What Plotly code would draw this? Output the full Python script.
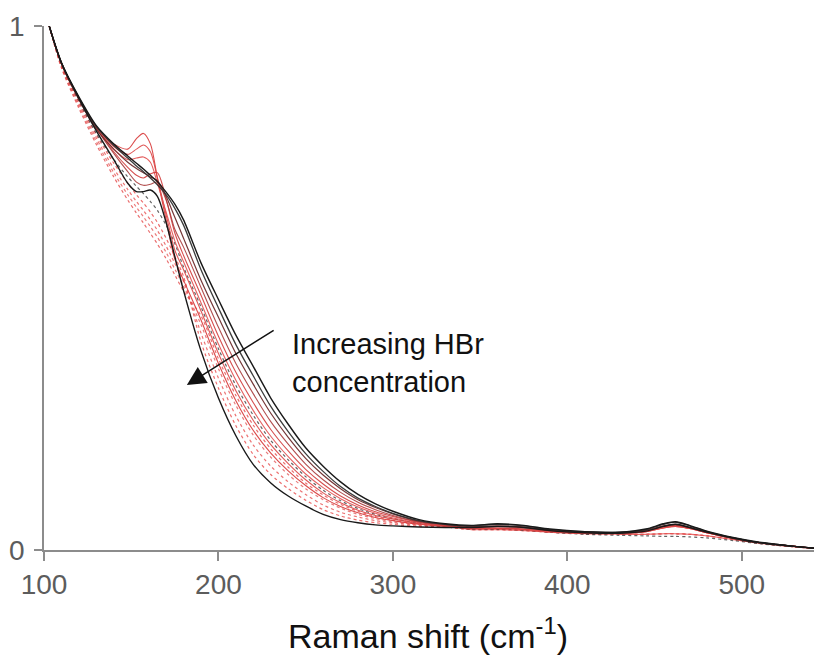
import plotly.graph_objects as go

# Raman shift grid (cm-1)
shift = [103, 110, 120, 130, 140, 148, 153, 157, 161, 165, 170, 175, 180,
         190, 200, 210, 220, 230, 240, 250, 260, 270, 280, 290, 300, 315, 330,
         345, 360, 375, 390, 410, 430, 445, 455, 462, 470, 480, 495, 510, 530, 546]

# normalised intensities
black_low = [1.000, 0.930, 0.865, 0.810, 0.775, 0.752, 0.738, 0.727, 0.715, 0.703, 0.683, 0.660, 0.630,
             0.548, 0.478, 0.410, 0.350, 0.290, 0.240, 0.195, 0.160, 0.130, 0.106, 0.088, 0.074, 0.058, 0.050,
             0.047, 0.050, 0.047, 0.040, 0.035, 0.034, 0.040, 0.050, 0.054, 0.047, 0.036, 0.024, 0.015, 0.007, 0.002]
black_low2 = [1.000, 0.930, 0.863, 0.808, 0.772, 0.748, 0.733, 0.722, 0.710, 0.697, 0.678, 0.652, 0.620,
              0.535, 0.462, 0.392, 0.332, 0.274, 0.226, 0.184, 0.150, 0.121, 0.099, 0.083, 0.070, 0.056, 0.049,
              0.046, 0.049, 0.046, 0.039, 0.035, 0.034, 0.039, 0.049, 0.053, 0.046, 0.035, 0.023, 0.014, 0.007, 0.002]
dark_red = [1.000, 0.928, 0.860, 0.803, 0.765, 0.740, 0.728, 0.720, 0.712, 0.705, 0.675, 0.635, 0.595,
            0.515, 0.444, 0.375, 0.316, 0.261, 0.215, 0.175, 0.143, 0.117, 0.096, 0.081, 0.069, 0.055, 0.049,
            0.045, 0.046, 0.044, 0.038, 0.034, 0.033, 0.038, 0.046, 0.049, 0.043, 0.034, 0.022, 0.014, 0.007, 0.002]
black_high = [1.000, 0.930, 0.862, 0.800, 0.745, 0.700, 0.684, 0.684, 0.687, 0.675, 0.625, 0.560, 0.495,
              0.380, 0.290, 0.218, 0.163, 0.128, 0.103, 0.084, 0.068, 0.058, 0.052, 0.048, 0.046, 0.044, 0.043,
              0.043, 0.045, 0.043, 0.037, 0.033, 0.032, 0.036, 0.045, 0.049, 0.043, 0.034, 0.023, 0.014, 0.007, 0.002]
red_1 = [1.000, 0.928, 0.860, 0.805, 0.775, 0.765, 0.785, 0.795, 0.775, 0.710, 0.630, 0.555, 0.515,
         0.439, 0.356, 0.285, 0.228, 0.185, 0.151, 0.123, 0.100, 0.083, 0.071, 0.062, 0.056, 0.049, 0.045,
         0.041, 0.041, 0.039, 0.035, 0.032, 0.032, 0.035, 0.042, 0.045, 0.041, 0.033, 0.022, 0.014, 0.007, 0.002]
red_2 = [1.000, 0.929, 0.862, 0.806, 0.770, 0.755, 0.765, 0.773, 0.760, 0.710, 0.640, 0.572, 0.535,
         0.456, 0.375, 0.304, 0.247, 0.201, 0.165, 0.134, 0.109, 0.090, 0.076, 0.066, 0.059, 0.050, 0.046,
         0.041, 0.041, 0.039, 0.035, 0.032, 0.032, 0.035, 0.042, 0.045, 0.041, 0.033, 0.022, 0.014, 0.007, 0.002]
red_3 = [1.000, 0.929, 0.862, 0.806, 0.765, 0.745, 0.748, 0.750, 0.740, 0.700, 0.645, 0.590, 0.550,
         0.472, 0.393, 0.324, 0.266, 0.217, 0.178, 0.145, 0.119, 0.098, 0.082, 0.070, 0.061, 0.052, 0.047,
         0.041, 0.041, 0.039, 0.035, 0.032, 0.032, 0.035, 0.043, 0.046, 0.041, 0.033, 0.022, 0.014, 0.007, 0.002]
red_4 = [1.000, 0.929, 0.862, 0.805, 0.760, 0.730, 0.715, 0.710, 0.718, 0.720, 0.670, 0.605, 0.562,
         0.486, 0.408, 0.339, 0.281, 0.230, 0.189, 0.154, 0.126, 0.103, 0.086, 0.073, 0.064, 0.053, 0.047,
         0.042, 0.042, 0.040, 0.036, 0.032, 0.032, 0.036, 0.044, 0.047, 0.042, 0.033, 0.022, 0.014, 0.007, 0.002]
red_5 = [1.000, 0.929, 0.862, 0.805, 0.757, 0.722, 0.702, 0.696, 0.698, 0.702, 0.668, 0.612, 0.578,
         0.501, 0.425, 0.356, 0.298, 0.245, 0.202, 0.164, 0.134, 0.110, 0.091, 0.077, 0.066, 0.054, 0.048,
         0.043, 0.044, 0.042, 0.037, 0.033, 0.032, 0.037, 0.045, 0.048, 0.043, 0.034, 0.022, 0.014, 0.007, 0.002]
dot_red_1 = [1.000, 0.926, 0.855, 0.792, 0.738, 0.700, 0.678, 0.662, 0.645, 0.625, 0.595, 0.560, 0.522,
             0.397, 0.309, 0.237, 0.182, 0.144, 0.117, 0.095, 0.077, 0.065, 0.057, 0.052, 0.049, 0.045, 0.044,
             0.039, 0.039, 0.037, 0.034, 0.031, 0.030, 0.030, 0.031, 0.031, 0.030, 0.027, 0.020, 0.013, 0.006, 0.002]
dot_red_2 = [1.000, 0.924, 0.851, 0.786, 0.728, 0.688, 0.665, 0.648, 0.630, 0.610, 0.580, 0.547, 0.512,
             0.414, 0.328, 0.256, 0.200, 0.160, 0.130, 0.106, 0.086, 0.072, 0.063, 0.056, 0.052, 0.047, 0.044,
             0.039, 0.039, 0.037, 0.034, 0.031, 0.030, 0.030, 0.031, 0.031, 0.030, 0.027, 0.020, 0.013, 0.006, 0.002]
dot_red_3 = [1.000, 0.922, 0.847, 0.780, 0.720, 0.678, 0.654, 0.636, 0.617, 0.597, 0.568, 0.536, 0.503,
             0.430, 0.346, 0.276, 0.219, 0.177, 0.144, 0.117, 0.096, 0.080, 0.068, 0.060, 0.054, 0.048, 0.045,
             0.039, 0.039, 0.037, 0.034, 0.031, 0.030, 0.030, 0.031, 0.031, 0.030, 0.027, 0.020, 0.013, 0.006, 0.002]
dot_red_4 = [1.000, 0.920, 0.843, 0.774, 0.712, 0.668, 0.643, 0.624, 0.604, 0.584, 0.556, 0.525, 0.494,
             0.447, 0.365, 0.295, 0.238, 0.193, 0.158, 0.128, 0.105, 0.087, 0.074, 0.064, 0.057, 0.050, 0.046,
             0.039, 0.039, 0.037, 0.034, 0.031, 0.030, 0.030, 0.031, 0.031, 0.030, 0.027, 0.020, 0.013, 0.006, 0.002]
dot_black = [1.000, 0.927, 0.857, 0.795, 0.745, 0.712, 0.694, 0.680, 0.665, 0.648, 0.620, 0.585, 0.540,
             0.464, 0.384, 0.314, 0.257, 0.209, 0.172, 0.140, 0.114, 0.094, 0.079, 0.068, 0.060, 0.051, 0.046,
             0.040, 0.040, 0.038, 0.034, 0.030, 0.028, 0.027, 0.026, 0.026, 0.025, 0.023, 0.018, 0.012, 0.006, 0.002]

x_ticks = [100, 200, 300, 400, 500]
y_ticks = [0, 1]
y_ticktext = ["0", "1"]

series = [
    (dot_red_1, "rgba(230,60,60,0.75)", "dot", 1.2),
    (dot_red_2, "rgba(230,70,70,0.75)", "dot", 1.2),
    (dot_red_3, "rgba(225,80,80,0.75)", "dot", 1.2),
    (dot_red_4, "rgba(225,60,60,0.75)", "dot", 1.2),
    (dot_black, "rgba(60,60,60,0.8)", "dot", 1.2),
    (red_1, "rgba(215,55,55,0.9)", "solid", 1.1),
    (red_2, "rgba(220,70,70,0.9)", "solid", 1.1),
    (red_3, "rgba(225,80,80,0.9)", "solid", 1.1),
    (red_4, "rgba(210,60,60,0.9)", "solid", 1.1),
    (red_5, "rgba(170,60,60,0.9)", "solid", 1.1),
    (dark_red, "rgba(110,45,45,0.95)", "solid", 1.2),
    (black_low2, "rgba(50,50,50,0.95)", "solid", 1.3),
    (black_low, "rgba(25,25,25,1)", "solid", 1.4),
    (black_high, "rgba(25,25,25,1)", "solid", 1.4),
]

fig = go.Figure()
for vals, col, dash, w in series:
    fig.add_trace(go.Scatter(x=shift, y=vals, mode="lines",
                             line=dict(color=col, dash=dash, width=w, shape="spline", smoothing=0.8),
                             hoverinfo="skip"))

axis_col = "#8c8c8c"
tick_font = dict(family="Liberation Sans, Arial, sans-serif", size=28, color="#5c5c5c")

# the page body adds an 8 px offset, so the figure is 8 px smaller in each direction
fig.update_layout(
    width=814, height=648,
    margin=dict(l=36, r=0, t=18, b=106, autoexpand=False),
    plot_bgcolor="white", paper_bgcolor="white",
    showlegend=False,
    font=dict(family="Liberation Sans, Arial, sans-serif"),
    xaxis=dict(range=[100, 546], tickvals=x_ticks, showline=True, linecolor=axis_col, linewidth=1.5,
               ticks="outside", ticklen=9, tickwidth=1.5, tickcolor=axis_col, tickfont=tick_font,
               showgrid=False, zeroline=False, automargin=False),
    yaxis=dict(range=[0, 1], tickvals=y_ticks, ticktext=y_ticktext, showline=True, linecolor=axis_col,
               linewidth=1.5, ticks="outside", ticklen=8, tickwidth=1.5, tickcolor=axis_col,
               tickfont=tick_font, showgrid=False, zeroline=False, ticklabelstandoff=4, automargin=False),
)

fig.add_annotation(text="Raman shift (cm<sup>-1</sup>)", xref="paper", yref="paper",
                   x=0.4936, y=-0.1584, xanchor="center", yanchor="middle", showarrow=False,
                   font=dict(family="Liberation Sans, Arial, sans-serif", size=34, color="#111111"))

fig.add_annotation(text="Increasing HBr<br>concentration", xref="x", yref="y",
                   x=241.1, y=0.356, xanchor="left", yanchor="middle", align="left", showarrow=False,
                   font=dict(family="Liberation Sans, Arial, sans-serif", size=29, color="#111111"))

fig.add_annotation(text="", xref="x", yref="y", x=181.9, y=0.315, axref="x", ayref="y",
                   ax=232.5, ay=0.421, showarrow=True, arrowhead=2, arrowsize=2.5, arrowwidth=1.5,
                   arrowcolor="#111111")

fig.write_html("out.html")
